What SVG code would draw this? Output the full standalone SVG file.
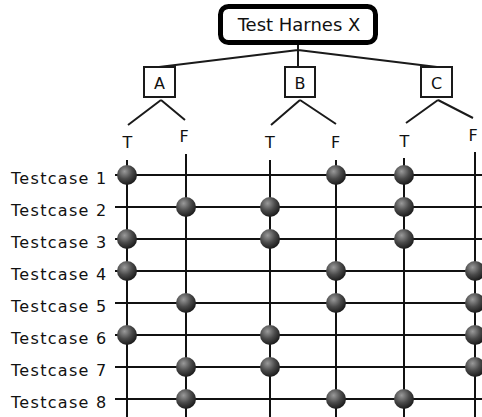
<svg xmlns="http://www.w3.org/2000/svg" width="482" height="417" viewBox="0 0 482 417">
<defs>
<radialGradient id="ball" cx="0.38" cy="0.32" r="0.68">
<stop offset="0" stop-color="#9a9a9a"/>
<stop offset="0.55" stop-color="#4a4a4a"/>
<stop offset="1" stop-color="#1c1c1c"/>
</radialGradient>
<style>
.t{font-family:"DejaVu Sans",Verdana,sans-serif;fill:#111}
.tc{font-size:16px;letter-spacing:1.3px}
.lbl{font-size:16px;text-anchor:middle}
.box{fill:#fff;stroke:#1a1a1a;stroke-width:2}
.ln{stroke:#1a1a1a;stroke-width:2;fill:none}
.g{stroke:#111;stroke-width:2;fill:none}
.b{fill:url(#ball)}
</style>
</defs>
<rect width="482" height="417" fill="#fff"/>
<g id="connectors">
<path class="ln" d="M298,45 V67 M298,50 L159,67 M298,50 L437,67"/>
<path class="ln" d="M161,100 L128,125 M161,100 L185,120"/>
<path class="ln" d="M300,100 L271,125 M300,100 L336,124"/>
<path class="ln" d="M438,100 L406,123 M438,100 L473,118"/>
<path class="g" d="M127,160 V417 M186,154 V417 M270,160 V417 M336,160 V417 M404,158 V417 M475,152 V417"/>
<path class="g" d="M115,175 H482 M115,207 H482 M115,239 H482 M115,271 H482 M115,303 H482 M115,335 H482 M115,367 H482 M115,399 H482"/>
</g>
<g id="title">
<rect x="220.5" y="6.5" width="155" height="36" rx="8" fill="#fff" stroke="#000" stroke-width="5"/>
<text class="t" x="299" y="31" font-size="18" text-anchor="middle">Test Harnes X</text>
</g>
<g id="nodeA"><rect class="box" x="144" y="67" width="31" height="30"/><text class="t lbl" x="159.5" y="89">A</text></g>
<g id="nodeB"><rect class="box" x="285" y="67" width="30" height="30"/><text class="t lbl" x="300" y="89">B</text></g>
<g id="nodeC"><rect class="box" x="421" y="67" width="31" height="30"/><text class="t lbl" x="436.5" y="89">C</text></g>
<g id="tf-labels">
<text class="t lbl" x="127.5" y="148">T</text>
<text class="t lbl" x="184" y="142">F</text>
<text class="t lbl" x="270" y="148">T</text>
<text class="t lbl" x="335.5" y="148">F</text>
<text class="t lbl" x="404.5" y="147">T</text>
<text class="t lbl" x="473" y="141">F</text>
</g>
<g id="testcases">
<text class="t tc" x="11" y="184">Testcase 1</text>
<text class="t tc" x="11" y="216">Testcase 2</text>
<text class="t tc" x="11" y="248">Testcase 3</text>
<text class="t tc" x="11" y="280">Testcase 4</text>
<text class="t tc" x="11" y="312">Testcase 5</text>
<text class="t tc" x="11" y="344">Testcase 6</text>
<text class="t tc" x="11" y="376">Testcase 7</text>
<text class="t tc" x="11" y="408">Testcase 8</text>
</g>
<g id="balls">
<circle class="b" cx="127" cy="175" r="10"/><circle class="b" cx="336" cy="175" r="10"/><circle class="b" cx="404" cy="175" r="10"/>
<circle class="b" cx="186" cy="207" r="10"/><circle class="b" cx="270" cy="207" r="10"/><circle class="b" cx="404" cy="207" r="10"/>
<circle class="b" cx="127" cy="239" r="10"/><circle class="b" cx="270" cy="239" r="10"/><circle class="b" cx="404" cy="239" r="10"/>
<circle class="b" cx="127" cy="271" r="10"/><circle class="b" cx="336" cy="271" r="10"/><circle class="b" cx="475" cy="271" r="10"/>
<circle class="b" cx="186" cy="303" r="10"/><circle class="b" cx="336" cy="303" r="10"/><circle class="b" cx="475" cy="303" r="10"/>
<circle class="b" cx="127" cy="335" r="10"/><circle class="b" cx="270" cy="335" r="10"/><circle class="b" cx="475" cy="335" r="10"/>
<circle class="b" cx="186" cy="367" r="10"/><circle class="b" cx="270" cy="367" r="10"/><circle class="b" cx="475" cy="367" r="10"/>
<circle class="b" cx="186" cy="399" r="10"/><circle class="b" cx="336" cy="399" r="10"/><circle class="b" cx="404" cy="399" r="10"/>
</g>
</svg>
